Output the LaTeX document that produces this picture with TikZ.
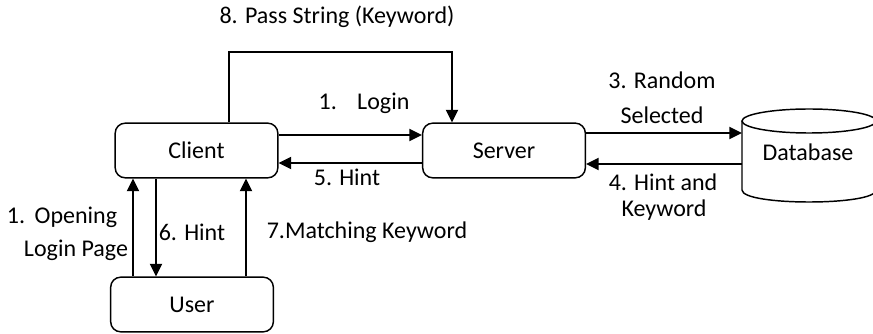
\documentclass[tikz,border=0pt]{standalone}
\usepackage{fontspec}
\setmainfont{Carlito}
\usetikzlibrary{arrows.meta}

\tikzset{
  box/.style={draw, line width=1.1pt, rounded corners=7.5pt,
    minimum width=122pt, minimum height=41pt, inner sep=0pt},
  flow/.style={line width=1.5pt, -{Triangle[length=9.5pt,width=9pt]}},
  lbl/.style={inner sep=0pt, align=center},
  dbline/.style={line width=1.1pt}
}

\begin{document}
\begin{tikzpicture}[x=0.75pt, y=-0.75pt, font=\fontsize{18}{22}\selectfont]
  \useasboundingbox (0,0) rectangle (873,334);

  % main participants
  \node[box] (client) at (196.5,150.5) {Client};
  \node[box] (server) at (504,150.5) {Server};
  \node[box] (user)   at (192,304.5) {User};

  % database drawn as a cylinder, clipped at the right edge
  \node[minimum width=100.5pt, minimum height=69.75pt, inner sep=0pt] (db) at (809,155.5) {};
  \begin{scope}
    \clip (0,0) rectangle (873,334);
    \draw[dbline] (809,121) ellipse [x radius=67, y radius=12];
    \draw[dbline] (742,121) -- (742,190)
      .. controls (742,206) and (876,206) .. (876,190) -- (876,121);
  \end{scope}
  \node[lbl] (dbtext) at (808,152) {Database};

  % client <-> server
  \draw[flow] (client.east |- 0,135) -- (server.west |- 0,135);
  \draw[flow] (server.west |- 0,163) -- (client.east |- 0,163);
  \coordinate (ptop) at (229,52);
  \draw[flow] (client.north -| ptop) -- (ptop) -| (server.north -| 452,0);

  % server <-> database
  \draw[flow] (server.east |- 0,133) -- (742,133);
  \draw[flow] (742,164) -- (server.east |- 0,164);

  % user <-> client
  \draw[flow] (user.north -| 133,0) -- (client.south -| 133,0);
  \draw[flow] (client.south -| 156,0) -- (user.north -| 156,0);
  \draw[flow] (user.north -| 246,0) -- (client.south -| 246,0);

  % labels
  \node[lbl] (l8)  at (337,17)  {8. Pass String (Keyword)};
  \node[lbl] (l1)  at (364,103) {1.\hspace{0.85em}Login};
  \node[lbl] (l5)  at (347,177) {5. Hint};
  \node[lbl] (l3a) at (662,80)  {3. Random};
  \node[lbl] (l3b) at (662,115) {Selected};
  \node[lbl] (l4a) at (663,182) {4. Hint and};
  \node[lbl] (l4b) at (664,210) {Keyword};
  \node[lbl] (lo1) at (62,217)  {1.\hspace{0.4em}Opening};
  \node[lbl] (lo2) at (76,250)  {Login Page};
  \node[lbl] (l6)  at (192,232) {6. Hint};
  \node[lbl] (l7)  at (367,232) {7.Matching Keyword};
\end{tikzpicture}
\end{document}
